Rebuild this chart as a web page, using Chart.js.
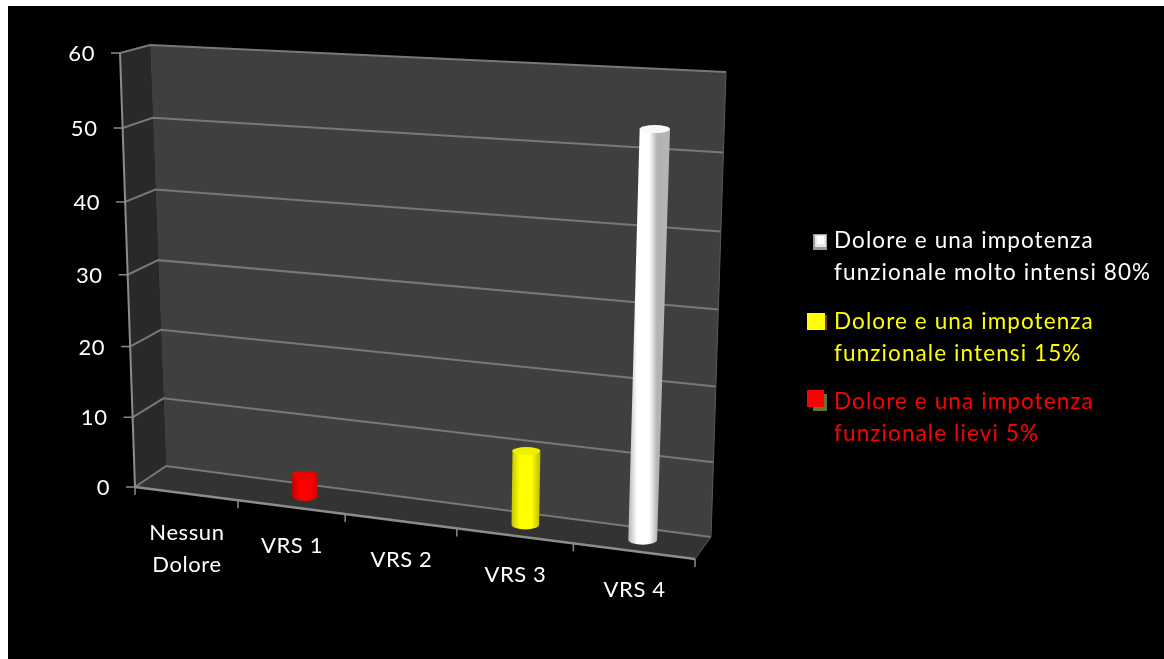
<!DOCTYPE html>
<html>
<head>
<meta charset="utf-8">
<title>Dolore VRS</title>
<script src="https://cdn.jsdelivr.net/npm/chart.js@4"></script>
<style>
  html, body { margin: 0; background: #fff; }
  canvas { display: block; }
</style>
</head>
<body>
<canvas id="one" width="1164" height="659"></canvas>
<script>
// chart values
const categories = [['Nessun', 'Dolore'], 'VRS 1', 'VRS 2', 'VRS 3', 'VRS 4'];
const moltoIntensi = [null, null, null, null, 53];
const intensi = [null, null, null, 10, null];
const lievi = [null, 3, null, null, null];
const seriesLabels = [
  ['Dolore e una impotenza', 'funzionale molto intensi 80%'],
  ['Dolore e una impotenza', 'funzionale intensi 15%'],
  ['Dolore e una impotenza', 'funzionale lievi 5%']
];
const yTicksMax = 60;
const yTicksStep = 10;

const FONT = '22px Lato, "Open Sans", sans-serif';
const LEGEND_FONT = '22.5px Lato, "Open Sans", sans-serif';

// corners of the box the plot sits in (b = back wall, f = front plane)
const box = {
  bTL: [150, 45], bTR: [726, 72], bBL: [166, 466], bBR: [711, 537],
  fTL: [120, 53], fTR: [715, 79], fBL: [135, 487], fBR: [695, 559]
};

function mix(a, b, t) {
  return [a[0] + (b[0] - a[0]) * t, a[1] + (b[1] - a[1]) * t];
}

// u, v in 0..1 along the axes, d = 0 front .. 1 back
function project(u, v, d) {
  const uu = u / (u + (1 - u) * 1.11);       // things get narrower to the left
  const vv = v / (v + (1 - v) * 1.045);      // and shorter to the bottom
  const back = mix(mix(box.bBL, box.bBR, uu), mix(box.bTL, box.bTR, uu), vv);
  const front = mix(mix(box.fBL, box.fBR, uu), mix(box.fTL, box.fTR, uu), vv);
  return mix(front, back, d);
}

// turns canvas pixels given by the scales into 0..1 on the box
function toBox(chart, px, py) {
  const a = chart.chartArea;
  return [(px - a.left) / a.width, (a.bottom - py) / a.height];
}

function poly(ctx, pts, fill) {
  ctx.beginPath();
  ctx.moveTo(pts[0][0], pts[0][1]);
  for (let i = 1; i < pts.length; i++) ctx.lineTo(pts[i][0], pts[i][1]);
  ctx.closePath();
  ctx.fillStyle = fill;
  ctx.fill();
}

function line(ctx, pts, color, width) {
  ctx.beginPath();
  ctx.moveTo(pts[0][0], pts[0][1]);
  for (let i = 1; i < pts.length; i++) ctx.lineTo(pts[i][0], pts[i][1]);
  ctx.strokeStyle = color;
  ctx.lineWidth = width;
  ctx.stroke();
}

// the dark box with its grid lines, drawn from the y scale ticks
function drawBox(chart) {
  const ctx = chart.ctx;
  const ys = chart.scales.y;
  const xs = chart.scales.x;
  ctx.save();
  ctx.fillStyle = '#000';
  ctx.fillRect(8, 6, chart.width - 8, chart.height - 6);

  poly(ctx, [box.fTL, box.bTL, box.bBL, box.fBL], '#292929');
  poly(ctx, [box.bTL, box.bTR, box.bBR, box.bBL], '#3f3f3f');
  poly(ctx, [box.fBL, box.bBL, box.bBR, box.fBR], '#333333');

  ys.ticks.forEach(function (t) {
    const v = toBox(chart, 0, ys.getPixelForValue(t.value))[1];
    line(ctx, [project(0, v, 0), project(0, v, 1), project(1, v, 1)], '#787878', 2);
    const f = project(0, v, 0);
    line(ctx, [[f[0] - 9, f[1]], f], '#8c8c8c', 1.5);
  });

  // axis lines
  line(ctx, [project(0, 0, 0), project(0, 1, 0)], '#8c8c8c', 2);
  line(ctx, [project(0, 0, 0), project(1, 0, 0)], '#8c8c8c', 2.4);
  line(ctx, [project(1, 0, 0), project(1, 0, 1)], '#5a5a5a', 1);
  line(ctx, [project(1, 0, 1), project(1, 1, 1)], '#5a5a5a', 1);

  // category tick marks on the front edge
  categories.concat(['']).forEach(function (c, i) {
    const u = toBox(chart, xs.getPixelForValue(i - 0.5), 0)[0];
    const p = project(u, 0, 0);
    line(ctx, [p, [p[0], p[1] + 8]], '#8c8c8c', 1.5);
  });
  ctx.restore();
}

// one cylinder, sized from the bar element the controller laid out
function drawCylinder(chart, el, color) {
  const ctx = chart.ctx;
  const depth = 0.52;
  const l = toBox(chart, el.x - el.width / 2, el.base);
  const r = toBox(chart, el.x + el.width / 2, el.base);
  const top = toBox(chart, el.x, el.y)[1];
  const bl = project(l[0], 0, depth), br = project(r[0], 0, depth);
  const tl = project(l[0], top, depth), tr = project(r[0], top, depth);

  const grad = ctx.createLinearGradient(bl[0], 0, br[0], 0);
  grad.addColorStop(0, color.edge);
  grad.addColorStop(0.3, color.main);
  grad.addColorStop(0.72, color.main);
  grad.addColorStop(1, color.edge);

  ctx.save();
  ctx.beginPath();
  ctx.moveTo(tl[0], tl[1]);
  ctx.lineTo(bl[0], bl[1]);
  ctx.ellipse((bl[0] + br[0]) / 2, (bl[1] + br[1]) / 2, (br[0] - bl[0]) / 2, 5, 0, Math.PI, 0, true);
  ctx.lineTo(tr[0], tr[1]);
  ctx.closePath();
  ctx.fillStyle = grad;
  ctx.fill();

  ctx.beginPath();
  ctx.ellipse((tl[0] + tr[0]) / 2, (tl[1] + tr[1]) / 2, (tr[0] - tl[0]) / 2, 4, 0, 0, Math.PI * 2);
  ctx.fillStyle = color.top;
  ctx.fill();
  ctx.restore();
}

function drawAxisLabels(chart) {
  const ctx = chart.ctx;
  const ys = chart.scales.y;
  const xs = chart.scales.x;
  ctx.save();
  ctx.font = FONT;
  ctx.fillStyle = '#fff';
  ctx.textBaseline = 'middle';
  ctx.letterSpacing = '0.6px';

  ctx.textAlign = 'right';
  ys.ticks.forEach(function (t) {
    const v = toBox(chart, 0, ys.getPixelForValue(t.value))[1];
    const p = project(0, v, 0);
    ctx.fillText(t.label, p[0] - 25, p[1] + 1);
  });

  ctx.textAlign = 'center';
  categories.forEach(function (c, i) {
    const u = toBox(chart, xs.getPixelForValue(i), 0)[0];
    const p = project(u, 0, 0);
    const lines = [].concat(c);
    lines.forEach(function (txt, k) {
      ctx.fillText(txt, p[0] + 1, p[1] + 39 + k * 32);
    });
  });
  ctx.restore();
}

// legend on the right: swatch next to the first line, text in the series colour
function drawLegend(chart) {
  const ctx = chart.ctx;
  ctx.save();
  ctx.font = LEGEND_FONT;
  ctx.textBaseline = 'middle';
  ctx.textAlign = 'left';
  ctx.letterSpacing = '1.1px';

  const rows = [241, 322, 402];
  chart.data.datasets.forEach(function (ds, i) {
    ctx.fillStyle = ds.legendColor;
    ds.label.forEach(function (txt, k) {
      ctx.fillText(txt, 834, rows[i] + k * 32);
    });
  });

  // white swatch
  ctx.fillStyle = '#9a9a9a';
  ctx.fillRect(813, 234, 14, 16);
  ctx.fillStyle = '#e8e8e8';
  ctx.fillRect(815, 235, 11, 12);
  ctx.fillStyle = '#fff';
  ctx.fillRect(817, 236, 7, 8);
  // yellow swatch
  ctx.fillStyle = '#7a3a10';
  ctx.fillRect(824, 315, 3, 15);
  ctx.fillStyle = '#ffff00';
  ctx.fillRect(807, 313, 18, 17);
  // red swatch
  ctx.fillStyle = '#667038';
  ctx.fillRect(813, 394, 14, 17);
  ctx.fillStyle = '#ff0000';
  ctx.fillRect(807, 390, 17, 17);
  ctx.restore();
}

const scenePlugin = {
  id: 'scene',
  beforeDatasetsDraw: function (chart) {
    drawBox(chart);
  },
  beforeDatasetDraw: function (chart, args) {
    const ds = chart.data.datasets[args.index];
    args.meta.data.forEach(function (el, i) {
      if (ds.data[i] !== null) drawCylinder(chart, el, ds.cylinder);
    });
    return false;
  },
  afterDatasetsDraw: function (chart) {
    drawAxisLabels(chart);
    drawLegend(chart);
  }
};

new Chart(document.getElementById('one'), {
  type: 'bar',
  plugins: [scenePlugin],
  data: {
    labels: categories,
    datasets: [
      {
        label: seriesLabels[0], data: moltoIntensi, legendColor: '#ffffff',
        cylinder: { main: '#ffffff', edge: '#b4b4b4', top: '#f8f8f8' }
      },
      {
        label: seriesLabels[1], data: intensi, legendColor: '#ffff00',
        cylinder: { main: '#ffff00', edge: '#c4c400', top: '#eeee00' }
      },
      {
        label: seriesLabels[2], data: lievi, legendColor: '#ff0000',
        cylinder: { main: '#ff0000', edge: '#c80000', top: '#ee0000' }
      }
    ]
  },
  options: {
    responsive: false,
    animation: false,
    datasets: { bar: { grouped: false, barPercentage: 0.24, categoryPercentage: 1 } },
    plugins: { legend: { display: false }, tooltip: { enabled: false } },
    scales: {
      x: { display: false },
      y: { display: false, min: 0, max: yTicksMax, ticks: { stepSize: yTicksStep } }
    }
  }
});
</script>
</body>
</html>
